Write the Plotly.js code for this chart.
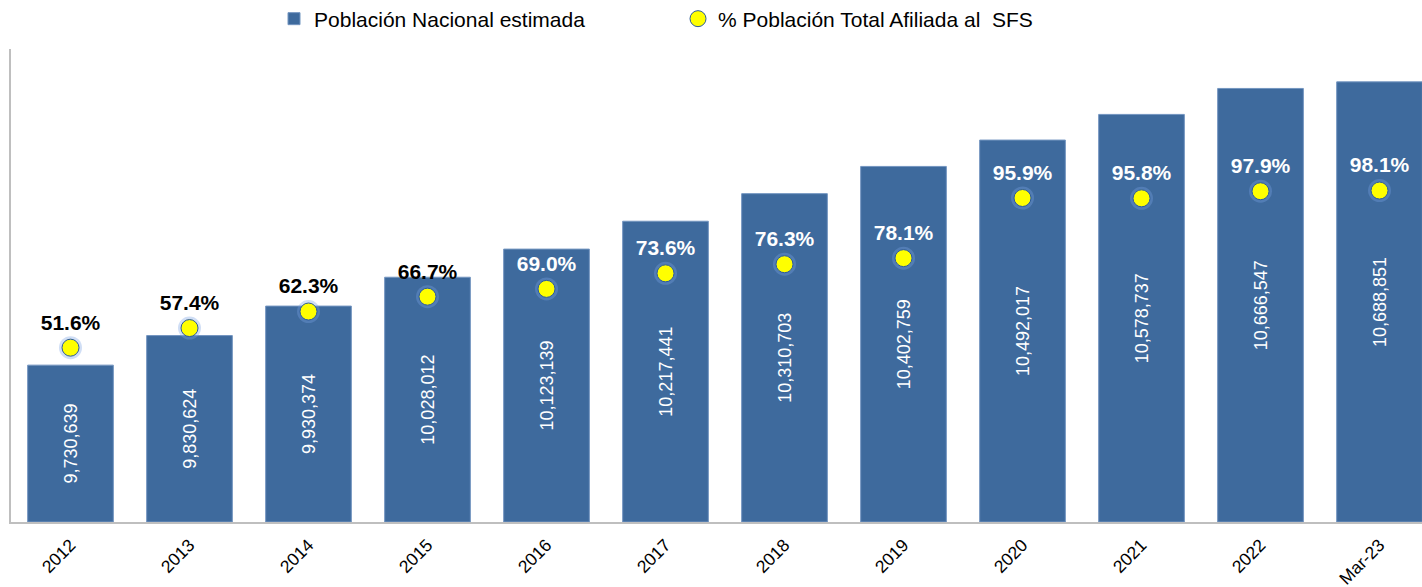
<!DOCTYPE html>
<html>
<head>
<meta charset="utf-8">
<script src="https://cdn.plot.ly/plotly-3.0.1.min.js"></script>
<style>html,body{margin:0;padding:0;background:#fff;overflow:hidden}#chart{width:1422px;height:587px}</style>
</head>
<body>
<div id="chart"></div>
<script>
const categories = ["2012","2013","2014","2015","2016","2017","2018","2019","2020","2021","2022","Mar-23"];
const population = [9730639, 9830624, 9930374, 10028012, 10123139, 10217441, 10310703, 10402759, 10492017, 10578737, 10666547, 10688851];
const pctAffiliated = [51.6, 57.4, 62.3, 66.7, 69.0, 73.6, 76.3, 78.1, 95.9, 95.8, 97.9, 98.1];
const pctLabelColors = ["#000000","#000000","#000000","#000000","#ffffff","#ffffff","#ffffff","#ffffff","#ffffff","#ffffff","#ffffff","#ffffff"];

const AXIS_MIN = 9200000;
const AXIS_MAX = 10800000;
const fmt = n => n.toLocaleString('en-US');
const FONT = 'Liberation Sans, Arial, sans-serif';

const bars = {
  type: 'bar',
  name: 'Población Nacional estimada',
  x: categories,
  base: AXIS_MIN,
  y: population.map(v => v - AXIS_MIN),
  text: population.map(fmt),
  textposition: 'inside',
  insidetextanchor: 'middle',
  textangle: -90,
  constraintext: 'none',
  textfont: {family: FONT, size: 18, color: '#ffffff'},
  marker: {color: '#3E6A9D', line: {color: '#7395C0', width: 1}},
  width: 0.72,
  hoverinfo: 'skip'
};

const glow = {
  type: 'scatter',
  mode: 'markers',
  x: categories,
  y: pctAffiliated,
  yaxis: 'y2',
  showlegend: false,
  marker: {size: 23, color: 'rgba(120,160,225,0.35)', line: {width: 0}},
  hoverinfo: 'skip'
};

const labels = {
  type: 'scatter',
  mode: 'markers+text',
  x: categories,
  y: pctAffiliated,
  yaxis: 'y2',
  showlegend: false,
  text: pctAffiliated.map(v => v.toFixed(1) + '%'),
  textposition: 'top center',
  textfont: {family: FONT, size: 21, color: pctLabelColors, weight: 'bold'},
  marker: {size: 19, opacity: 0},
  hoverinfo: 'skip'
};

const pts = {
  type: 'scatter',
  mode: 'markers',
  name: '% Población Total Afiliada al  SFS',
  x: categories,
  y: pctAffiliated,
  yaxis: 'y2',
  marker: {size: 17, color: '#FFFF00', line: {color: '#2C5A9A', width: 1}},
  hoverinfo: 'skip'
};

const layout = {
  width: 1422,
  height: 587,
  margin: {l: 11, r: 0, t: 49, b: 65, autoexpand: false},
  paper_bgcolor: '#ffffff',
  plot_bgcolor: '#ffffff',
  font: {family: FONT, size: 16, color: '#000000'},
  showlegend: true,
  legend: {
    orientation: 'h',
    x: 0.1864, xanchor: 'left',
    yref: 'container',
    y: 0.9676, yanchor: 'middle',
    font: {family: FONT, size: 21, color: '#000000'},
    entrywidth: 359,
    itemwidth: 30,
    bgcolor: 'rgba(0,0,0,0)'
  },
  xaxis: {
    type: 'category',
    range: [-0.5, 11.357],
    showline: true,
    linecolor: '#BFBFBF',
    linewidth: 2,
    ticks: '',
    tickangle: -45,
    ticklabelstandoff: 4,
    tickfont: {family: FONT, size: 17.5, color: '#000000'},
    showgrid: false,
    zeroline: false,
    automargin: false
  },
  yaxis: {
    range: [AXIS_MIN, AXIS_MAX],
    showline: true,
    linecolor: '#BFBFBF',
    linewidth: 2,
    showticklabels: false,
    ticks: '',
    showgrid: false,
    zeroline: false,
    automargin: false
  },
  yaxis2: {
    overlaying: 'y',
    range: [0, 140],
    visible: false,
    showgrid: false,
    zeroline: false
  }
};

Plotly.newPlot('chart', [bars, glow, labels, pts], layout, {displayModeBar: false, staticPlot: true});
</script>
</body>
</html>
